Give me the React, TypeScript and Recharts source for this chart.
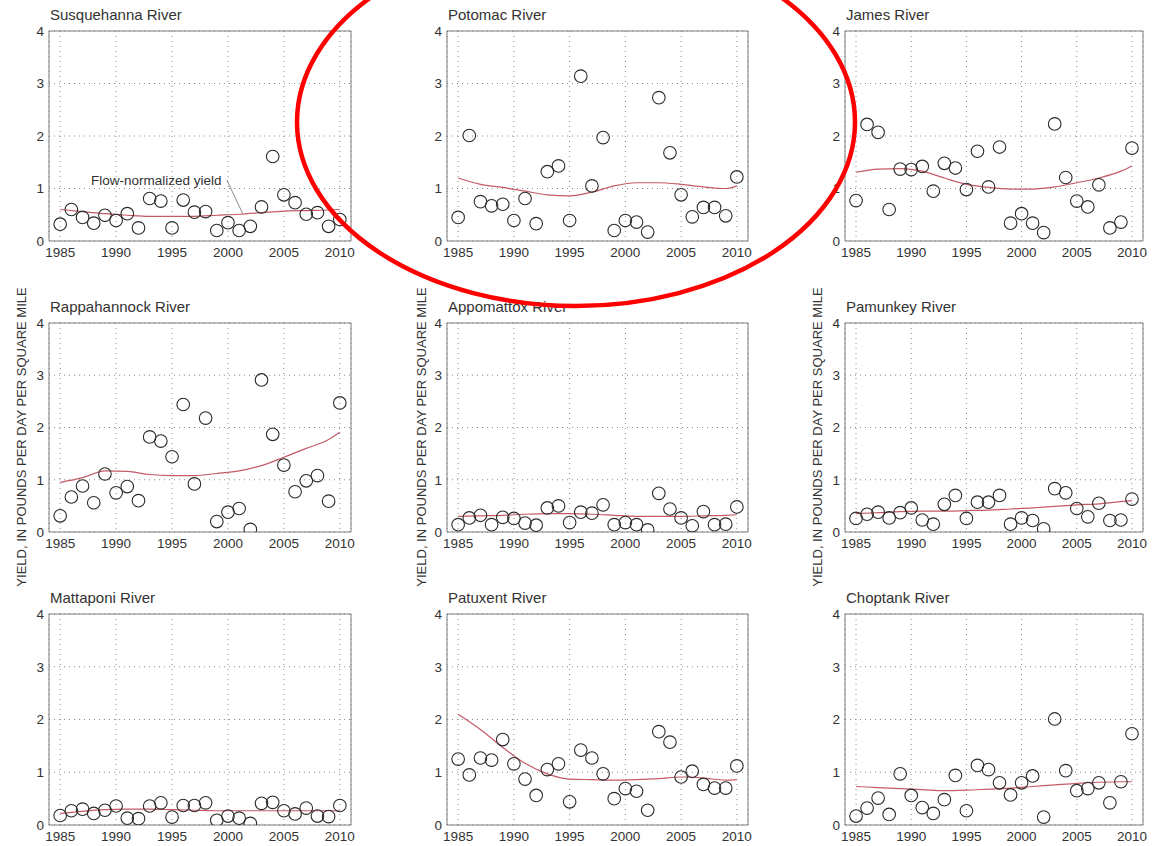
import React from 'react';
import { ComposedChart, CartesianGrid, Line, Scatter, XAxis, YAxis, ReferenceArea, ReferenceLine, ReferenceDot } from 'recharts';

const YEARS = [1985, 1986, 1987, 1988, 1989, 1990, 1991, 1992, 1993, 1994, 1995, 1996, 1997, 1998, 1999, 2000, 2001, 2002, 2003, 2004, 2005, 2006, 2007, 2008, 2009, 2010];
const TREND_YEARS = [1985, 1987, 1989, 1991, 1993, 1995, 1997, 1999, 2001, 2003, 2005, 2007, 2009, 2010];
const X_TICKS = [1985, 1990, 1995, 2000, 2005, 2010];
const Y_TICKS = [0, 1, 2, 3, 4];

const susquehannaObs = [0.32, 0.6, 0.45, 0.34, 0.49, 0.39, 0.52, 0.25, 0.81, 0.76, 0.25, 0.78, 0.55, 0.56, 0.2, 0.35, 0.2, 0.28, 0.65, 1.61, 0.88, 0.73, 0.51, 0.54, 0.28, 0.41];
const susquehannaTrend = [0.6, 0.56, 0.52, 0.49, 0.47, 0.47, 0.47, 0.49, 0.51, 0.54, 0.57, 0.58, 0.59, 0.6];

const potomacObs = [0.45, 2.01, 0.75, 0.67, 0.7, 0.39, 0.81, 0.33, 1.32, 1.43, 0.39, 3.14, 1.05, 1.97, 0.2, 0.39, 0.36, 0.17, 2.73, 1.68, 0.88, 0.46, 0.64, 0.64, 0.48, 1.22];
const potomacTrend = [1.2, 1.08, 1.02, 0.95, 0.88, 0.86, 0.93, 1.05, 1.11, 1.11, 1.08, 1.03, 1.0, 1.05];

const jamesObs = [0.77, 2.22, 2.07, 0.6, 1.37, 1.36, 1.42, 0.95, 1.48, 1.39, 0.98, 1.71, 1.03, 1.79, 0.34, 0.52, 0.34, 0.16, 2.23, 1.21, 0.76, 0.65, 1.07, 0.25, 0.36, 1.77];
const jamesTrend = [1.31, 1.37, 1.38, 1.33, 1.2, 1.08, 1.02, 0.99, 0.99, 1.03, 1.11, 1.2, 1.33, 1.43];

const rappahannockObs = [0.31, 0.67, 0.88, 0.56, 1.11, 0.75, 0.87, 0.6, 1.82, 1.74, 1.44, 2.44, 0.92, 2.18, 0.2, 0.38, 0.45, 0.05, 2.91, 1.87, 1.28, 0.77, 0.98, 1.08, 0.59, 2.47];
const rappahannockTrend = [0.95, 1.04, 1.17, 1.16, 1.1, 1.08, 1.08, 1.12, 1.17, 1.27, 1.43, 1.6, 1.77, 1.91];

const appomattoxObs = [0.14, 0.27, 0.32, 0.14, 0.28, 0.26, 0.17, 0.13, 0.46, 0.5, 0.18, 0.38, 0.36, 0.52, 0.14, 0.18, 0.14, 0.04, 0.74, 0.44, 0.27, 0.12, 0.39, 0.14, 0.15, 0.48];
const appomattoxTrend = [0.3, 0.31, 0.32, 0.34, 0.35, 0.35, 0.34, 0.32, 0.3, 0.3, 0.3, 0.31, 0.32, 0.33];

const pamunkeyObs = [0.26, 0.34, 0.38, 0.27, 0.37, 0.46, 0.23, 0.15, 0.53, 0.7, 0.26, 0.57, 0.57, 0.7, 0.15, 0.27, 0.22, 0.06, 0.83, 0.75, 0.45, 0.29, 0.55, 0.22, 0.23, 0.63];
const pamunkeyTrend = [0.35, 0.37, 0.39, 0.4, 0.4, 0.41, 0.42, 0.44, 0.46, 0.49, 0.52, 0.54, 0.58, 0.6];

const mattaponiObs = [0.18, 0.27, 0.3, 0.22, 0.28, 0.36, 0.13, 0.12, 0.36, 0.42, 0.15, 0.37, 0.37, 0.42, 0.09, 0.17, 0.13, 0.03, 0.41, 0.43, 0.27, 0.21, 0.32, 0.17, 0.16, 0.37];
const mattaponiTrend = [0.22, 0.26, 0.29, 0.3, 0.3, 0.29, 0.28, 0.27, 0.27, 0.27, 0.27, 0.27, 0.27, 0.27];

const patuxentObs = [1.25, 0.95, 1.27, 1.23, 1.62, 1.16, 0.87, 0.56, 1.05, 1.16, 0.44, 1.42, 1.27, 0.97, 0.5, 0.69, 0.64, 0.28, 1.77, 1.57, 0.91, 1.02, 0.77, 0.7, 0.7, 1.12];
const patuxentTrend = [2.1, 1.81, 1.47, 1.17, 0.97, 0.87, 0.86, 0.85, 0.86, 0.88, 0.91, 0.89, 0.85, 0.86];

const choptankObs = [0.17, 0.32, 0.51, 0.2, 0.97, 0.56, 0.33, 0.22, 0.48, 0.94, 0.27, 1.13, 1.05, 0.8, 0.57, 0.8, 0.93, 0.15, 2.01, 1.03, 0.65, 0.69, 0.8, 0.42, 0.82, 1.73];
const choptankTrend = [0.73, 0.71, 0.69, 0.67, 0.65, 0.66, 0.68, 0.7, 0.73, 0.76, 0.79, 0.81, 0.82, 0.82];

const COL_LEFT = [49, 447, 845];
const COL_WIDTH = [302, 301, 298];
const ROW_TOP = [31, 323, 614];
const ROW_HEIGHT = [210, 209, 211];

const FONT = 'Arial, "Liberation Sans", sans-serif';
const TEXT = '#333';

const panels = [
  { name: 'Susquehanna River', obs: susquehannaObs, trend: susquehannaTrend, row: 0, col: 0, note: true },
  { name: 'Potomac River', obs: potomacObs, trend: potomacTrend, row: 0, col: 1 },
  { name: 'James River', obs: jamesObs, trend: jamesTrend, row: 0, col: 2 },
  { name: 'Rappahannock River', obs: rappahannockObs, trend: rappahannockTrend, row: 1, col: 0 },
  { name: 'Appomattox River', obs: appomattoxObs, trend: appomattoxTrend, row: 1, col: 1 },
  { name: 'Pamunkey River', obs: pamunkeyObs, trend: pamunkeyTrend, row: 1, col: 2 },
  { name: 'Mattaponi River', obs: mattaponiObs, trend: mattaponiTrend, row: 2, col: 0 },
  { name: 'Patuxent River', obs: patuxentObs, trend: patuxentTrend, row: 2, col: 1 },
  { name: 'Choptank River', obs: choptankObs, trend: choptankTrend, row: 2, col: 2 }
];

const openCircle = (props: any) => (
  <circle cx={props.cx} cy={props.cy} r={6.3} fill="none" stroke="#2a2a2a" strokeWidth={1.1} />
);

function Panel({ p }: { p: (typeof panels)[number] }) {
  const rows = YEARS.map((year, i) => {
    const t = TREND_YEARS.indexOf(year);
    return { year, obs: p.obs[i], trend: t >= 0 ? p.trend[t] : null };
  });
  const plotW = COL_WIDTH[p.col];
  const plotH = ROW_HEIGHT[p.row];
  const yW = 30;
  const xH = 25;
  const top = 12;
  const right = 5;
  const tick = { fontSize: 13.5, fill: TEXT, fontFamily: FONT };

  return (
    <>
      <div
        style={{
          position: 'absolute',
          left: COL_LEFT[p.col] + 1,
          top: ROW_TOP[p.row] - 25,
          fontSize: 15,
          fontFamily: FONT,
          color: TEXT,
          lineHeight: '18px',
          whiteSpace: 'nowrap'
        }}
      >
        {p.name}
      </div>
      <div style={{ position: 'absolute', left: COL_LEFT[p.col] - yW, top: ROW_TOP[p.row] - top }}>
        <ComposedChart
          width={yW + plotW + right}
          height={top + plotH + xH}
          data={rows}
          margin={{ top, right, bottom: 0, left: 0 }}
        >
          <CartesianGrid stroke="#8a8a8a" strokeDasharray="1 4" />
          <XAxis
            dataKey="year"
            type="number"
            domain={[1984, 2011]}
            ticks={X_TICKS}
            height={xH}
            axisLine={false}
            tickLine={false}
            tickSize={0}
            tickMargin={6}
            tick={tick}
            allowDataOverflow
            interval={0}
          />
          <YAxis
            type="number"
            domain={[0, 4]}
            ticks={Y_TICKS}
            width={yW}
            axisLine={false}
            tickLine={false}
            tickSize={0}
            tickMargin={5}
            tick={tick}
            allowDataOverflow
            interval={0}
          />
          <ReferenceArea x1={1984} x2={2011} y1={0} y2={4} fill="none" stroke="#7c7c7c" strokeWidth={1} />
          <Line
            dataKey="trend"
            type="monotone"
            stroke="#c45a68"
            strokeWidth={1.2}
            dot={false}
            connectNulls
            isAnimationActive={false}
          />
          <Scatter dataKey="obs" shape={openCircle} isAnimationActive={false} />
          {p.note && (
            <ReferenceLine
              segment={[
                { x: 1999.9, y: 1.16 },
                { x: 2001.3, y: 0.53 }
              ]}
              stroke="#8a8a8a"
              strokeWidth={1}
            />
          )}
          {p.note && (
            <ReferenceDot
              x={1999.7}
              y={1.16}
              r={0}
              stroke="none"
              fill="none"
              label={{ value: 'Flow-normalized yield', position: 'left', offset: 3, fontSize: 13.5, fill: TEXT, fontFamily: FONT }}
            />
          )}
        </ComposedChart>
      </div>
    </>
  );
}

const Y_LABEL = 'YIELD, IN POUNDS PER DAY PER SQUARE MILE';
const Y_LABEL_X = [21, 421, 817];

export default function App() {
  return (
    <div style={{ position: 'absolute', left: 0, top: 0, width: 1154, height: 846, background: '#fff', overflow: 'hidden' }}>
      {panels.map((p) => (
        <Panel key={p.name} p={p} />
      ))}
      <svg width={1154} height={846} style={{ position: 'absolute', left: 0, top: 0, pointerEvents: 'none' }}>
        {Y_LABEL_X.map((x) => (
          <text
            key={x}
            x={x}
            y={437}
            transform={`rotate(-90 ${x} 437)`}
            textAnchor="middle"
            dominantBaseline="central"
            fontSize={13}
            fontFamily={FONT}
            fill={TEXT}
          >
            {Y_LABEL}
          </text>
        ))}
        <ellipse cx={576} cy={122} rx={279} ry={184} fill="none" stroke="#f00" strokeWidth={4.5} />
      </svg>
    </div>
  );
}
